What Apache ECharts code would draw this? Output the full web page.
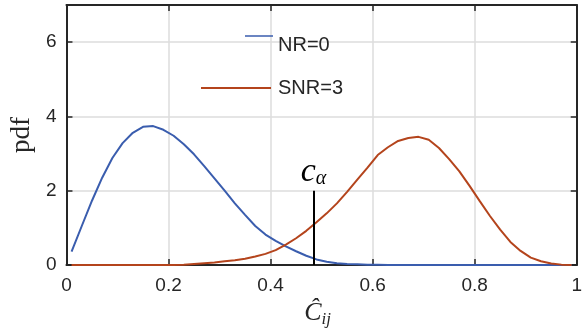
<!DOCTYPE html>
<html>
<head>
<meta charset="utf-8">
<script src="https://cdn.jsdelivr.net/npm/echarts@6/dist/echarts.min.js"></script>
<style>
  html, body { margin: 0; padding: 0; background: #fff; }
  #chart { width: 585px; height: 336px; }
</style>
</head>
<body>
<div id="chart"></div>
<script>
// Sample positions of the estimated densities
const xValues = [
  0.01, 0.03, 0.05, 0.07, 0.09, 0.11, 0.13, 0.15, 0.17, 0.19,
  0.21, 0.23, 0.25, 0.27, 0.29, 0.31, 0.33, 0.35, 0.37, 0.39,
  0.41, 0.43, 0.45, 0.47, 0.49, 0.51, 0.53, 0.55, 0.57, 0.59,
  0.61, 0.63, 0.65, 0.67, 0.69, 0.71, 0.73, 0.75, 0.77, 0.79,
  0.81, 0.83, 0.85, 0.87, 0.89, 0.91, 0.93, 0.95, 0.97, 0.99
];

// pdf under no signal
const pdfNR0 = [
  0.36, 1.05, 1.73, 2.35, 2.88, 3.28, 3.56, 3.72, 3.74, 3.64,
  3.48, 3.25, 2.98, 2.66, 2.33, 2.00, 1.66, 1.35, 1.05, 0.82,
  0.65, 0.50, 0.37, 0.25, 0.15, 0.09, 0.05, 0.03, 0.02, 0.01,
  0.01, 0, 0, 0, 0, 0, 0, 0, 0, 0,
  0, 0, 0, 0, 0, 0, 0, 0, 0, 0
];

// pdf at SNR = 3
const pdfSNR3 = [
  0, 0, 0, 0, 0, 0, 0, 0, 0, 0,
  0.00, 0.01, 0.03, 0.05, 0.07, 0.10, 0.13, 0.17, 0.23, 0.30,
  0.40, 0.55, 0.72, 0.92, 1.15, 1.39, 1.66, 1.97, 2.30, 2.62,
  2.96, 3.17, 3.34, 3.42, 3.45, 3.37, 3.15, 2.85, 2.52, 2.13,
  1.72, 1.32, 0.95, 0.62, 0.38, 0.20, 0.10, 0.04, 0.01, 0.00
];

const seriesNames = ['NR=0', 'SNR=3'];
const xTicks = [0, 0.2, 0.4, 0.6, 0.8, 1];
const yTicks = [0, 2, 4, 6];
const threshold = [0.484, 2];   // c_alpha position and marker height

const pairs = (ys) => xValues.map((x, i) => [x, ys[i]]);

const axisColor = '#262626';
const gridColor = '#dcdcdc';
const blue = '#3a5dae';
const orange = '#b4441c';
const tickFont = { fontFamily: 'Liberation Sans', fontSize: 19, color: axisColor };
const legendFont = { fontFamily: 'Liberation Sans', fontSize: 20, color: axisColor };

const chart = echarts.init(document.getElementById('chart'), null, { renderer: 'canvas' });

const baseX = {
  type: 'value',
  min: xTicks[0],
  max: xTicks[xTicks.length - 1],
  interval: xTicks[1] - xTicks[0],
  axisLine: { show: true, onZero: false, lineStyle: { color: axisColor, width: 2 } },
  axisTick: { show: true, inside: true, length: 6, lineStyle: { color: axisColor, width: 1.5 } }
};
const baseY = {
  type: 'value',
  min: yTicks[0],
  max: 7,
  interval: yTicks[1] - yTicks[0],
  axisLine: { show: true, onZero: false, lineStyle: { color: axisColor, width: 2 } },
  axisTick: { show: true, inside: true, length: 6, lineStyle: { color: axisColor, width: 1.5 } }
};

chart.setOption({
  animation: false,
  backgroundColor: '#ffffff',
  grid: { left: 66, right: 3, top: 5, bottom: 71, containLabel: false },
  xAxis: [
    Object.assign({}, baseX, {
      position: 'bottom',
      axisLabel: Object.assign({ margin: 11 }, tickFont),
      splitLine: { show: true, lineStyle: { color: gridColor, width: 1.5 } },
      name: '{c|Ĉ}{s|ij}',
      nameLocation: 'middle',
      nameGap: 32,
      nameTextStyle: {
        padding: [0, 8, 0, 0],
        rich: {
          c: { fontFamily: 'Liberation Serif', fontStyle: 'italic', fontSize: 26, color: axisColor },
          s: { fontFamily: 'Liberation Serif', fontStyle: 'italic', fontSize: 17, color: axisColor, padding: [13, 0, 0, 0] }
        }
      }
    }),
    Object.assign({}, baseX, {
      position: 'top',
      axisLabel: { show: false },
      splitLine: { show: false }
    })
  ],
  yAxis: [
    Object.assign({}, baseY, {
      position: 'left',
      axisLabel: Object.assign({ margin: 10, showMaxLabel: false }, tickFont),
      splitLine: { show: true, lineStyle: { color: gridColor, width: 1.5 } },
      name: 'pdf',
      nameLocation: 'middle',
      nameRotate: 90,
      nameGap: 30,
      nameTextStyle: { fontFamily: 'Liberation Serif', fontSize: 27, color: axisColor }
    }),
    Object.assign({}, baseY, {
      position: 'right',
      axisLabel: { show: false },
      splitLine: { show: false }
    })
  ],
  legend: [
    {
      show: true,
      data: [{ name: seriesNames[0], icon: 'rect' }],
      left: 245, top: 35, padding: 0,
      itemWidth: 28, itemHeight: 1.5,
      itemStyle: { color: blue },
      formatter: '{t|{name}}',
      textStyle: Object.assign({
        rich: { t: Object.assign({ padding: [18, 0, 0, 0] }, legendFont) }
      }, legendFont)
    },
    {
      show: true,
      data: [{ name: seriesNames[1], icon: 'rect' }],
      left: 201, top: 78, padding: 0,
      itemWidth: 70, itemHeight: 2,
      itemStyle: { color: orange },
      formatter: '{t|{name}}',
      textStyle: Object.assign({
        rich: { t: Object.assign({ padding: [0, 0, 0, 2] }, legendFont) }
      }, legendFont)
    }
  ],
  series: [
    {
      name: seriesNames[0],
      type: 'line',
      data: pairs(pdfNR0),
      symbol: 'none',
      clip: false,
      color: blue,
      lineStyle: { width: 2, color: blue }
    },
    {
      name: seriesNames[1],
      type: 'line',
      data: pairs(pdfSNR3),
      symbol: 'none',
      clip: false,
      color: orange,
      lineStyle: { width: 2, color: orange },
      markLine: {
        silent: true,
        symbol: ['none', 'none'],
        lineStyle: { color: '#000000', width: 2, type: 'solid' },
        label: {
          show: true,
          position: 'end',
          distance: 2,
          formatter: '{c|c}{a|α}',
          rich: {
            c: { fontFamily: 'Liberation Serif', fontStyle: 'italic', fontSize: 34, color: '#000' },
            a: { fontFamily: 'Liberation Serif', fontStyle: 'italic', fontSize: 20, color: '#000', padding: [14, 0, 0, 0] }
          }
        },
        data: [[
          { coord: [threshold[0], 0] },
          { coord: [threshold[0], threshold[1]] }
        ]]
      }
    }
  ]
});
</script>
</body>
</html>
